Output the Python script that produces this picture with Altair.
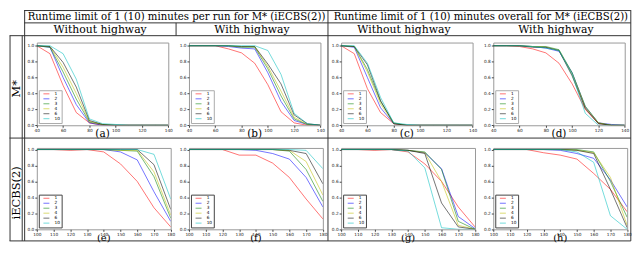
import altair as alt
import pandas as pd

SX, SY = 0.98, 0.92

SERIES = ["1", "2", "3", "4", "6", "10"]
COLORS = ["#ff0000", "#0000ff", "#008000", "#bfbf00", "#000000", "#00bfbf"]

X_ROW1 = [40, 50, 60, 70, 80, 90, 100, 110, 120, 130, 140]
X_ROW2 = [100, 110, 120, 130, 140, 150, 160, 170, 180]
XTICKS_ROW1 = [40, 60, 80, 100, 120, 140]
XTICKS_ROW2 = [100, 110, 120, 130, 140, 150, 160, 170, 180]
YTICKS = [0.0, 0.2, 0.4, 0.6, 0.8, 1.0]

PANEL_A = {
    "1":  [1.0, 0.90, 0.50, 0.16, 0.03, 0.0, 0.0, 0.0, 0.0, 0.0, 0.0],
    "2":  [1.0, 0.98, 0.60, 0.26, 0.03, 0.0, 0.0, 0.0, 0.0, 0.0, 0.0],
    "3":  [1.0, 0.98, 0.67, 0.33, 0.04, 0.01, 0.0, 0.0, 0.0, 0.0, 0.0],
    "4":  [1.0, 0.99, 0.73, 0.40, 0.05, 0.01, 0.0, 0.0, 0.0, 0.0, 0.0],
    "6":  [1.0, 0.99, 0.79, 0.48, 0.06, 0.01, 0.0, 0.0, 0.0, 0.0, 0.0],
    "10": [1.0, 1.0, 0.90, 0.58, 0.08, 0.02, 0.01, 0.0, 0.0, 0.0, 0.0],
}
PANEL_B = {
    "1":  [1.0, 1.0, 1.0, 0.96, 0.91, 0.78, 0.51, 0.17, 0.03, 0.0, 0.0],
    "2":  [1.0, 1.0, 1.0, 0.99, 0.97, 0.96, 0.66, 0.30, 0.06, 0.01, 0.0],
    "3":  [1.0, 1.0, 1.0, 1.0, 0.98, 0.98, 0.71, 0.37, 0.08, 0.01, 0.0],
    "4":  [1.0, 1.0, 1.0, 1.0, 0.99, 0.99, 0.74, 0.43, 0.10, 0.01, 0.0],
    "6":  [1.0, 1.0, 1.0, 1.0, 0.99, 0.99, 0.77, 0.52, 0.13, 0.02, 0.0],
    "10": [1.0, 1.0, 1.0, 1.0, 1.0, 1.0, 0.94, 0.64, 0.15, 0.02, 0.0],
}
PANEL_C = {
    "1":  [1.0, 0.90, 0.46, 0.16, 0.02, 0.0, 0.0, 0.0, 0.0, 0.0, 0.0],
    "2":  [1.0, 0.98, 0.60, 0.22, 0.02, 0.0, 0.0, 0.0, 0.0, 0.0, 0.0],
    "3":  [1.0, 0.99, 0.70, 0.30, 0.03, 0.0, 0.0, 0.0, 0.0, 0.0, 0.0],
    "4":  [1.0, 0.99, 0.67, 0.27, 0.02, 0.0, 0.0, 0.0, 0.0, 0.0, 0.0],
    "6":  [1.0, 0.99, 0.76, 0.31, 0.02, 0.0, 0.0, 0.0, 0.0, 0.0, 0.0],
    "10": [1.0, 1.0, 0.78, 0.35, 0.03, 0.01, 0.0, 0.0, 0.0, 0.0, 0.0],
}
PANEL_D = {
    "1":  [1.0, 1.0, 0.99, 0.96, 0.91, 0.78, 0.52, 0.20, 0.02, 0.0, 0.0],
    "2":  [1.0, 1.0, 1.0, 0.99, 0.97, 0.93, 0.66, 0.23, 0.03, 0.01, 0.0],
    "3":  [1.0, 1.0, 1.0, 0.99, 0.99, 0.95, 0.66, 0.24, 0.03, 0.0, 0.0],
    "4":  [1.0, 1.0, 1.0, 0.99, 0.98, 0.94, 0.64, 0.22, 0.03, 0.0, 0.0],
    "6":  [1.0, 1.0, 1.0, 0.98, 0.98, 0.94, 0.62, 0.21, 0.02, 0.0, 0.0],
    "10": [1.0, 1.0, 1.0, 0.99, 0.97, 0.94, 0.64, 0.15, 0.0, 0.0, 0.0],
}
PANEL_E = {
    "1":  [1.0, 1.0, 0.99, 1.0, 0.97, 0.82, 0.60, 0.27, 0.03],
    "2":  [1.0, 1.0, 1.0, 1.0, 1.0, 0.97, 0.87, 0.47, 0.10],
    "3":  [1.0, 1.0, 1.0, 1.0, 1.0, 0.99, 0.98, 0.66, 0.14],
    "4":  [1.0, 1.0, 1.0, 1.0, 1.0, 0.99, 0.99, 0.72, 0.18],
    "6":  [1.0, 1.0, 1.0, 1.0, 1.0, 1.0, 1.0, 0.81, 0.25],
    "10": [1.0, 1.0, 1.0, 1.0, 1.0, 1.0, 1.0, 0.94, 0.38],
}
PANEL_F = {
    "1":  [1.0, 1.0, 1.0, 0.93, 0.93, 0.83, 0.65, 0.38, 0.13],
    "2":  [1.0, 1.0, 1.0, 1.0, 0.99, 0.95, 0.88, 0.65, 0.28],
    "3":  [1.0, 1.0, 1.0, 1.0, 1.0, 1.0, 0.98, 0.75, 0.35],
    "4":  [1.0, 1.0, 1.0, 1.0, 1.0, 1.0, 0.99, 0.85, 0.43],
    "6":  [1.0, 1.0, 1.0, 1.0, 1.0, 1.0, 0.99, 0.95, 0.57],
    "10": [1.0, 1.0, 1.0, 1.0, 1.0, 1.0, 1.0, 0.99, 0.76],
}
PANEL_G = {
    "1":  [1.0, 1.0, 0.99, 1.0, 0.97, 0.82, 0.60, 0.28, 0.03],
    "2":  [1.0, 1.0, 1.0, 1.0, 0.99, 0.96, 0.76, 0.16, 0.01],
    "3":  [1.0, 1.0, 1.0, 1.0, 0.99, 0.97, 0.75, 0.10, 0.0],
    "4":  [1.0, 1.0, 1.0, 1.0, 0.99, 0.96, 0.60, 0.05, 0.0],
    "6":  [1.0, 1.0, 1.0, 1.0, 0.99, 0.95, 0.33, 0.03, 0.0],
    "10": [1.0, 1.0, 1.0, 1.0, 0.98, 0.77, 0.02, 0.0, 0.0],
}
PANEL_H = {
    "1":  [1.0, 1.0, 1.0, 0.96, 0.93, 0.88, 0.70, 0.50, 0.22],
    "2":  [1.0, 1.0, 1.0, 1.0, 0.99, 0.95, 0.89, 0.62, 0.28],
    "3":  [1.0, 1.0, 1.0, 1.0, 1.0, 1.0, 0.97, 0.60, 0.15],
    "4":  [1.0, 1.0, 1.0, 1.0, 1.0, 0.99, 0.96, 0.65, 0.05],
    "6":  [1.0, 1.0, 1.0, 1.0, 1.0, 0.99, 0.95, 0.50, 0.02],
    "10": [1.0, 1.0, 1.0, 1.0, 1.0, 0.97, 0.84, 0.17, 0.0],
}

CAPTIONS_ROW1 = ["(a)", "(b)", "(c)", "(d)"]
CAPTIONS_ROW2 = ["(e)", "(f)", "(g)", "(h)"]
TITLES = ["Runtime limit of 1 (10) minutes per run for M* (iECBS(2))",
          "Runtime limit of 1 (10) minutes overall for M* (iECBS(2))"]
SUBTITLES = ["Without highway", "With highway", "Without highway", "With highway"]
ROW_LABELS = ["M*", "iECBS(2)"]

# ---- geometry in reference pixels ----
LEFT = 28
PITCH = 156
R1_W, R1_TOP, R1_BOT = 135, 35.5, 126
R2_W, R2_TOP, R2_BOT = 137.5, 150, 239
CAP_Y = [136, 249]
CAP_FS = [10.5, 10.0]

SERIF = "DejaVu Serif"
SANS = "DejaVu Sans"
LINE_COLOR = "#333333"
TITLE_FS = 10.2
SUB_FS = 10.9


def rx(p):
    return (p - LEFT) * SX


def ry(p):
    return (p - R1_TOP) * SY


def one():
    return alt.Data(values=[{"k": 0}])


def hline(x1, x2, y):
    return alt.Chart(one()).mark_rule(color=LINE_COLOR, strokeWidth=1).encode(
        x=alt.value(rx(x1)), x2=alt.value(rx(x2)), y=alt.value(ry(y)))


def vline(x, y1, y2):
    return alt.Chart(one()).mark_rule(color=LINE_COLOR, strokeWidth=1).encode(
        x=alt.value(rx(x)), y=alt.value(ry(y1)), y2=alt.value(ry(y2)))


def label(txt, x, y, size, angle=0):
    return alt.Chart(one()).mark_text(
        text=txt, font=SERIF, fontSize=size, angle=angle, align="center",
        baseline="middle", color="black").encode(x=alt.value(rx(x)), y=alt.value(ry(y)))


DECOR = [
    hline(15, 638, 0.5), hline(15, 638, 14), hline(0, 638, 28),
    hline(0, 638, 140), hline(0, 638, 252.5),
    vline(0.5, 28, 252.5), vline(13, 28, 252.5), vline(15.5, 0, 252.5),
    vline(171, 14, 28), vline(327, 0, 252.5), vline(638, 0, 252.5),
    label(TITLES[0], 171.5, 7.5, TITLE_FS), label(TITLES[1], 484, 7.5, TITLE_FS),
    label(SUBTITLES[0], 93, 21.5, SUB_FS), label(SUBTITLES[1], 249, 21.5, SUB_FS),
    label(SUBTITLES[2], 405, 21.5, SUB_FS), label(SUBTITLES[3], 561, 21.5, SUB_FS),
    label(ROW_LABELS[0], 7.5, 86, 11.5, angle=270),
    label(ROW_LABELS[1], 7.5, 200, 11.5, angle=270),
]


def panel(vals, xs, xticks, ydom, w, top, bot, caption, cap_y, cap_fs, legend_stroke, extras=()):
    rows = [{"x": x, "y": v, "s": s} for s in SERIES for x, v in zip(xs, vals[s])]
    df = pd.DataFrame(rows)
    axis_common = dict(labelFontSize=4.3, labelFont=SANS, labelColor="#222222",
                       tickSize=2, tickColor="#444444", labelPadding=1, grid=False,
                       domain=False, labelFlush=False, title=None)
    base = alt.Chart(df).mark_line(strokeWidth=1, opacity=0.55, clip=True).encode(
        x=alt.X("x:Q", scale=alt.Scale(domain=[xs[0], xs[-1]], nice=False, zero=False),
                axis=alt.Axis(values=xticks, format="d", **axis_common)),
        y=alt.Y("y:Q", scale=alt.Scale(domain=ydom, nice=False, zero=False),
                axis=alt.Axis(values=YTICKS, format=".1f", **axis_common)),
        color=alt.Color("s:N", scale=alt.Scale(domain=SERIES, range=COLORS),
                        legend=alt.Legend(title=None, orient="bottom-left", offset=2,
                                          symbolType="M-2,0L2,0", symbolSize=9,
                                          symbolStrokeWidth=1, symbolOffset=4,
                                          symbolOpacity=0.55,
                                          labelFontSize=4.3, labelFont=SANS,
                                          labelOffset=6, rowPadding=0, padding=1.5,
                                          strokeColor=legend_stroke, fillColor="white",
                                          cornerRadius=0)),
    )
    cap = alt.Chart(one()).mark_text(text=caption, font=SERIF, fontSize=cap_fs,
                                     baseline="middle", color="black").encode(
        x=alt.value(w * SX / 2), y=alt.value((cap_y - top) * SY))
    return alt.layer(base, cap, *extras).properties(width=w * SX, height=(bot - top) * SY)


def row1_panel(vals, i, extras=()):
    return panel(vals, X_ROW1, XTICKS_ROW1, [0, 1.04], R1_W, R1_TOP, R1_BOT,
                 CAPTIONS_ROW1[i], CAP_Y[0], CAP_FS[0], "#aaaaaa", extras)


def row2_panel(vals, i):
    return panel(vals, X_ROW2, XTICKS_ROW2, [0, 1.02], R2_W, R2_TOP, R2_BOT,
                 CAPTIONS_ROW2[i], CAP_Y[1], CAP_FS[1], "#444444")


panels = [
    row1_panel(PANEL_A, 0, DECOR), row1_panel(PANEL_B, 1),
    row1_panel(PANEL_C, 2), row1_panel(PANEL_D, 3),
    row2_panel(PANEL_E, 0), row2_panel(PANEL_F, 1),
    row2_panel(PANEL_G, 2), row2_panel(PANEL_H, 3),
]

chart = alt.concat(
    *panels, columns=4, bounds="flush",
    spacing=alt.RowColnumber(row=(R2_TOP - R1_BOT) * SY, column=PITCH * SX - R2_W * SX),
).resolve_scale(x="independent", y="independent").resolve_legend(color="independent").properties(
    padding=0, background="white"
).configure_view(stroke="#999999", strokeWidth=1)

chart.save("out.html", embed_options={"renderer": "svg", "actions": False})
